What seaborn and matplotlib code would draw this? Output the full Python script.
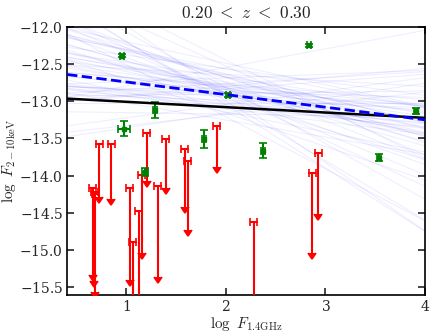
import numpy as np
import pandas as pd
import seaborn as sns
import matplotlib.pyplot as plt

# detections (green)
x_det = [0.96, 0.976, 1.19, 1.29, 1.78, 2.02, 2.37, 2.84, 3.54, 3.91]
y_det = [-12.39, -13.37, -13.95, -13.12, -13.51, -12.92, -13.67, -12.25, -13.76, -13.13]
xerr_det = [0.02, 0.06, 0.03, 0.02, 0.02, 0.02, 0.02, 0.02, 0.02, 0.02]
yerr_det = [0.02, 0.10, 0.05, 0.11, 0.12, 0.03, 0.10, 0.02, 0.05, 0.04]

# upper limits (red): top value and where the arrow ends
x_ul = [0.665, 0.68, 0.69, 0.73, 0.85, 1.04, 1.07, 1.13, 1.16, 1.21,
        1.32, 1.40, 1.59, 1.62, 1.91, 2.28, 2.87, 2.93]
y_ul = [-14.17, -14.22, -14.25, -13.58, -13.58, -14.17, -14.89, -14.47, -13.99, -13.43,
        -14.14, -13.51, -13.65, -13.81, -13.33, -14.62, -13.97, -13.70]
y_ul_end = [-15.33, -15.42, -15.57, -14.29, -14.31, -15.40, -15.90, -15.90, -15.04, -14.07,
            -15.36, -14.17, -14.42, -14.73, -13.88, -15.90, -15.04, -14.52]
xerr_ul = 0.035

# fits
fit_slope, fit_icpt = -0.0721, -12.938          # black solid
bayes_slope, bayes_icpt = -0.1696, -12.574      # blue dashed

# posterior draws: value at x=2.2 and slope
draw_pivot = [-12.85, -13.05, -12.70, -13.20, -12.95, -12.60, -13.10, -12.80, -13.00, -12.90,
              -12.75, -13.15, -12.65, -13.25, -12.88, -12.98, -12.72, -13.08, -12.83, -12.93,
              -13.02, -12.68, -12.78, -13.12, -12.92, -12.55, -13.30, -12.86, -13.04, -12.96,
              -12.74, -12.99, -13.18, -12.82, -12.62, -13.06, -12.91, -12.79, -13.14, -12.87,
              -12.97, -13.22, -12.58, -12.84, -13.01, -12.76, -12.94, -13.09, -12.66, -12.89,
              -13.35, -12.50, -13.00, -12.81, -13.16, -12.71, -12.95, -13.03, -12.88, -12.77]
draw_slope = [-0.52, -0.41, -0.33, -0.27, -0.22, -0.18, -0.14, -0.10, -0.05, 0.02,
              0.08, 0.15, -0.60, -0.45, -0.30, -0.25, -0.20, -0.16, -0.12, -0.07,
              0.00, 0.05, 0.12, 0.20, -0.38, -0.29, -0.23, -0.19, -0.15, -0.09,
              -0.35, -0.48, -0.02, 0.10, -0.26, -0.13, -0.31, -0.21, -0.17, -0.11,
              -0.75, -0.85, -0.66, -0.24, 0.18, -0.40, -0.28, -0.92, -0.08, -0.36,
              -0.70, 0.25, -0.55, -0.19, -0.80, -0.32, -0.16, -0.62, -0.04, -0.44]

sns.set_style("ticks")
plt.rcParams['font.family'] = ['DejaVu Serif']
plt.rcParams['mathtext.fontset'] = 'cm'
plt.rcParams['axes.formatter.use_mathtext'] = True

fig, ax = plt.subplots(figsize=(4.36, 3.36), dpi=100)
plt.subplots_adjust(left=0.154, right=0.975, bottom=0.123, top=0.921)

xg = np.array([0.41, 4.0])
rows = []
for i, (p, s) in enumerate(zip(draw_pivot, draw_slope)):
    for xv in xg:
        rows.append({'draw': i, 'x': xv, 'y': p + s * (xv - 2.2)})
draws = pd.DataFrame(rows)
sns.lineplot(data=draws, x='x', y='y', units='draw', estimator=None,
             color='blue', alpha=0.065, lw=0.8, ax=ax)

ax.errorbar(x_det, y_det, xerr=xerr_det, yerr=yerr_det, fmt='s', ms=3.5,
            color='green', ecolor='green', elinewidth=1.5, capsize=3, capthick=1.2, zorder=4)

yerr_ul = np.array(y_ul) - np.array(y_ul_end)
eb = ax.errorbar(x_ul, y_ul, xerr=xerr_ul, yerr=yerr_ul, uplims=True, fmt='none',
                 ecolor='red', elinewidth=1.5, capsize=3, capthick=1.2, zorder=3)
for cap in eb[1]:
    cap.set_markeredgecolor('red')
    cap.set_markerfacecolor('red')

fits = pd.DataFrame({'x': xg, 'fit': fit_icpt + fit_slope * xg,
                     'bayes': bayes_icpt + bayes_slope * xg})
sns.lineplot(data=fits, x='x', y='fit', color='black', lw=1.8, ax=ax, zorder=5)
sns.lineplot(data=fits, x='x', y='bayes', color='blue', lw=2, ls='--', ax=ax, zorder=5)

ax.set_xlim(0.41, 4.0)
ax.set_ylim(-15.6, -12.0)
ax.set_xticks([1, 2, 3, 4])
ax.set_yticks([-15.5, -15.0, -14.5, -14.0, -13.5, -13.0, -12.5, -12.0])
ax.tick_params(direction='in', top=True, right=True, length=5, width=1.2, labelsize=10, pad=3)
for sp in ax.spines.values():
    sp.set_linewidth(1.2)
    sp.set_color('black')

ax.set_title(r'$0.20\ <\ z\ <\ 0.30$', fontsize=12.5)
ax.set_xlabel(r'$\log\ F_{1.4\mathrm{GHz}}$', fontsize=11, labelpad=1)
ax.set_ylabel(r'$\log\ F_{2-10\mathrm{keV}}$', fontsize=11, labelpad=1)

plt.savefig('out.png', dpi=100)
